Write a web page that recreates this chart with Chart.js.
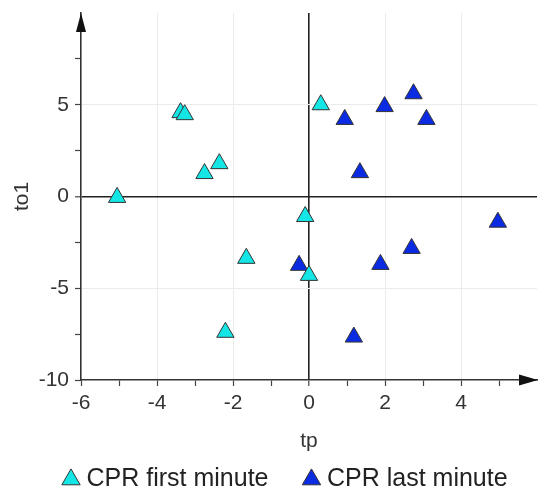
<!DOCTYPE html>
<html>
<head>
<meta charset="utf-8">
<script src="https://cdn.jsdelivr.net/npm/chart.js@4.4.0/dist/chart.umd.min.js"></script>
<style>
    body { margin: 0; background: #fff; }
    .chart-box { width: 554px; height: 489px; }
</style>
</head>
<body>
<div class="chart-box"><canvas id="scoreChart"></canvas></div>
<script>
// CPR first minute
const firstMinuteTp  = [-5.05, -3.38, -3.27, -2.75, -2.36, 0.31, -0.10, -1.65, -2.20, 0.00];
const firstMinuteTo1 = [-0.05, 4.57, 4.46, 1.25, 1.79, 5.00, -1.09, -3.37, -7.40, -4.30];
// CPR last minute
const lastMinuteTp  = [0.94, 1.99, 2.75, 3.09, 1.34, 4.97, -0.26, 1.88, 2.70, 1.18];
const lastMinuteTo1 = [4.20, 4.90, 5.60, 4.20, 1.30, -1.40, -3.75, -3.70, -2.83, -7.66];

const xTickLabels = ['-6', '-4', '-2', '0', '2', '4'];
const yTickLabels = ['-10', '-5', '0', '5'];

const FONT = "'Liberation Sans', Arial, sans-serif";
const PLOT_BOTTOM = 380;

function toPoints(xs, ys) {
    return xs.map((x, i) => ({ x: x, y: ys[i] }));
}

// стрелки на концах осей
const axisArrows = {
    id: 'axisArrows',
    afterDraw(chart) {
        const { ctx, chartArea: a } = chart;
        ctx.save();
        ctx.fillStyle = '#111';
        ctx.beginPath();
        ctx.moveTo(a.left, a.top);
        ctx.lineTo(a.left - 5, a.top + 19);
        ctx.lineTo(a.left + 5, a.top + 19);
        ctx.closePath();
        ctx.fill();
        ctx.beginPath();
        ctx.moveTo(a.right + 1, a.bottom);
        ctx.lineTo(a.right - 18, a.bottom - 5.5);
        ctx.lineTo(a.right - 18, a.bottom + 5.5);
        ctx.closePath();
        ctx.fill();
        ctx.restore();
    }
};

// сдвиг легенды под ось
const legendShift = {
    id: 'legendShift',
    afterLayout(chart) {
        const lg = chart.legend;
        lg.left += 28; lg.right += 28;
        lg.top += 13; lg.bottom += 13;
    }
};

document.addEventListener('DOMContentLoaded', function() {
    const ctx = document.getElementById('scoreChart').getContext('2d');

    new Chart(ctx, {
        type: 'scatter',
        data: {
            datasets: [
                {
                    label: 'CPR first minute',
                    data: toPoints(firstMinuteTp, firstMinuteTo1),
                    pointStyle: 'triangle',
                    pointRadius: 10,
                    pointHoverRadius: 10,
                    backgroundColor: '#14e6e6',
                    borderColor: '#333',
                    borderWidth: 1
                },
                {
                    label: 'CPR last minute',
                    data: toPoints(lastMinuteTp, lastMinuteTo1),
                    pointStyle: 'triangle',
                    pointRadius: 10,
                    pointHoverRadius: 10,
                    backgroundColor: '#0b2be3',
                    borderColor: '#333',
                    borderWidth: 1
                }
            ]
        },
        options: {
            responsive: true,
            maintainAspectRatio: false,
            animation: false,
            layout: { padding: { top: 13, right: 17, left: 0, bottom: 0 } },
            plugins: {
                tooltip: { enabled: false },
                legend: {
                    position: 'bottom',
                    align: 'start',
                    labels: {
                        usePointStyle: true,
                        boxWidth: 6,
                        boxHeight: 15,
                        padding: 40,
                        color: '#222',
                        font: { family: FONT, size: 25 }
                    }
                }
            },
            scales: {
                x: {
                    type: 'linear',
                    min: -6,
                    max: 6,
                    afterFit(scale) {
                        scale.height = scale.chart.height - scale.chart.legend.height - PLOT_BOTTOM;
                        scale.paddingLeft = 0;
                        scale.paddingRight = 0;
                    },
                    ticks: {
                        stepSize: 1,
                        padding: 5,
                        color: '#333',
                        font: { family: FONT, size: 21 },
                        maxRotation: 0,
                        autoSkip: false,
                        callback: v => xTickLabels.includes(String(v)) ? String(v) : ''
                    },
                    grid: {
                        color: c => c.tick.value === 0 ? '#222'
                            : (xTickLabels.includes(String(c.tick.value)) && c.tick.value !== -6 ? '#ebebeb' : 'rgba(0,0,0,0)'),
                        lineWidth: c => c.tick.value === 0 ? 1.6 : 1,
                        tickColor: c => c.tick.value === 6 ? 'rgba(0,0,0,0)' : '#444',
                        tickLength: 6,
                        tickWidth: 1.2
                    },
                    border: { color: '#333', width: 1.6 },
                    title: {
                        display: true,
                        text: 'tp',
                        color: '#333',
                        font: { family: FONT, size: 21 },
                        padding: { top: 0, bottom: -40 }
                    }
                },
                y: {
                    type: 'linear',
                    min: -10,
                    max: 10,
                    afterFit(scale) {
                        scale.width = 81;
                        scale.paddingTop = 0;
                        scale.paddingBottom = 0;
                    },
                    ticks: {
                        stepSize: 2.5,
                        padding: 6,
                        color: '#333',
                        font: { family: FONT, size: 21 },
                        autoSkip: false,
                        callback: v => yTickLabels.includes(String(v)) ? String(v) : ''
                    },
                    grid: {
                        color: c => c.tick.value === 0 ? '#222'
                            : (yTickLabels.includes(String(c.tick.value)) && c.tick.value !== -10 ? '#ebebeb' : 'rgba(0,0,0,0)'),
                        lineWidth: c => c.tick.value === 0 ? 1.6 : 1,
                        tickColor: c => c.tick.value === 10 ? 'rgba(0,0,0,0)' : '#444',
                        tickLength: 6,
                        tickWidth: 1.2
                    },
                    border: { color: '#333', width: 1.6 },
                    title: {
                        display: true,
                        text: 'to1',
                        color: '#333',
                        font: { family: FONT, size: 21 },
                        padding: { top: 10, bottom: 0 }
                    }
                }
            }
        },
        plugins: [axisArrows, legendShift]
    });
});
</script>
</body>
</html>
